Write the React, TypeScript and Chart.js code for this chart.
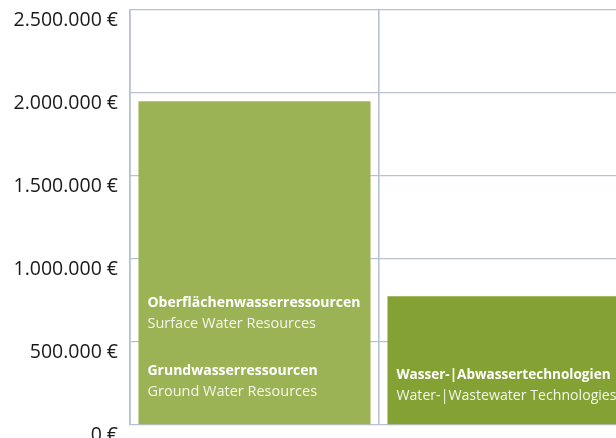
import React, { useEffect, useRef } from "react";
import { Chart, registerables } from "chart.js";

Chart.register(...registerables);

const categories = ["Oberflächen- und Grundwasserressourcen", "Wasser-|Abwassertechnologien"];
const values = [1950000, 775000];
const barColors = ["#9cb355", "#84a233"];
const labelsDe = [["Oberflächenwasserressourcen", "Grundwasserressourcen"], ["Wasser-|Abwassertechnologien"]];
const labelsEn = [["Surface Water Resources", "Ground Water Resources"], ["Water-|Wastewater Technologies"]];
const yMax = 2500000;
const yStep = 500000;

function formatEuro(v: number): string {
  const s = Math.round(v).toString().replace(/\B(?=(\d{3})+(?!\d))/g, ".");
  return s + " €";
}

const barTextPlugin = {
  id: "barText",
  afterDatasetsDraw(chart: any) {
    const ctx = chart.ctx;
    const meta = chart.getDatasetMeta(0);
    meta.data.forEach((bar: any, i: number) => {
      const props = bar.getProps(["x", "width", "base"], true);
      const left = props.x - props.width / 2 + 9;
      const maxW = props.width - 12;
      const de = labelsDe[i];
      const en = labelsEn[i];
      ctx.save();
      ctx.textAlign = "left";
      ctx.textBaseline = "middle";
      for (let k = 0; k < de.length; k++) {
        const g = de.length - 1 - k;
        const off = (de.length === 1 ? 49 : 53) + g * 68;
        ctx.fillStyle = "#ffffff";
        ctx.font = "bold 14px 'Open Sans'";
        ctx.fillText(de[k], left, props.base - off, maxW - 6);
        ctx.font = "14.5px 'Open Sans'";
        ctx.fillStyle = "#f4f6ec";
        ctx.fillText(en[k], left, props.base - off + 21, maxW);
      }
      ctx.restore();
    });
  },
};

export default function App() {
  const ref = useRef<HTMLCanvasElement>(null);
  useEffect(() => {
    if (!ref.current) return;
    const gridColor = "#b7c1d2";
    const chart = new Chart(ref.current, {
      type: "bar",
      data: {
        labels: categories,
        datasets: [
          {
            data: values,
            backgroundColor: barColors,
            borderWidth: 0,
            categoryPercentage: 1,
            barPercentage: 0.932,
          },
        ],
      },
      options: {
        responsive: false,
        animation: false,
        layout: { padding: { top: 10, bottom: 13, left: 0, right: 0 } },
        plugins: { legend: { display: false }, tooltip: { enabled: false } },
        scales: {
          x: {
            display: true,
            offset: true,
            grid: { display: true, offset: true, color: gridColor, lineWidth: 1.6, drawTicks: false },
            border: { display: false },
            ticks: { display: false },
          },
          y: {
            min: 0,
            max: yMax,
            afterFit: (s: any) => {
              s.width = 130;
              s.paddingTop = 0;
              s.paddingBottom = 0;
            },
            grid: { color: gridColor, lineWidth: 1.3, drawTicks: false },
            border: { display: true, color: gridColor, width: 1.6 },
            ticks: {
              stepSize: yStep,
              padding: 12,
              labelOffset: 10,
              color: "#1a1a1a",
              font: { family: "'Open Sans'", size: 19.5 },
              callback: (v: any) => formatEuro(Number(v)),
            },
          },
        },
      },
      plugins: [barTextPlugin],
    });
    return () => chart.destroy();
  }, []);
  return (
    <div style={{ position: "fixed", left: 0, top: 0, width: 616, height: 438, overflow: "hidden", background: "#fff" }}>
      <canvas ref={ref} width={628} height={438} style={{ display: "block", width: 628, height: 438 }} />
    </div>
  );
}
